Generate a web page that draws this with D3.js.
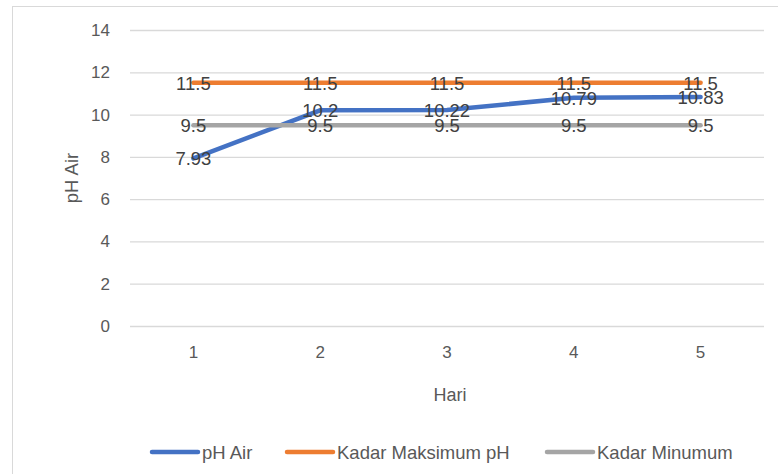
<!DOCTYPE html>
<html><head><meta charset="utf-8">
<script src="https://cdn.jsdelivr.net/npm/d3@7"></script>
<style>body{margin:0;background:#fff}svg{display:block}text{font-family:"Liberation Sans",Arial,sans-serif}</style>
</head><body><svg id="c" width="778" height="474"></svg>
<script>
const categories = ["1","2","3","4","5"];
const phAir = [7.93, 10.2, 10.22, 10.79, 10.83];
const kadarMaks = [11.5, 11.5, 11.5, 11.5, 11.5];
const kadarMin = [9.5, 9.5, 9.5, 9.5, 9.5];
const yTicks = [0, 2, 4, 6, 8, 10, 12, 14];
const seriesNames = ["pH Air", "Kadar Maksimum pH", "Kadar Minumum"];
const colors = ["#4472C4", "#ED7D31", "#A5A5A5"];

const series = [phAir, kadarMaks, kadarMin].map((v, i) => ({name: seriesNames[i], values: v, color: colors[i]}));
const svg = d3.select("#c");
const M = {left: 130, right: 764, top: 30, bottom: 326};

svg.append("rect").attr("x", 12.5).attr("y", 6.5).attr("width", 800).attr("height", 500)
  .attr("fill", "none").attr("stroke", "#D9D9D9");

const x = d3.scaleBand().domain(categories).range([M.left, M.right]);
const y = d3.scaleLinear().domain([0, 14]).range([M.bottom, M.top]);

const gy = svg.append("g").attr("transform", `translate(${M.left},0)`)
  .call(d3.axisLeft(y).tickValues(yTicks).tickSize(-(M.right - M.left)).tickPadding(20));
gy.select(".domain").remove();
gy.selectAll(".tick line").attr("stroke", "#D9D9D9").attr("stroke-width", 1.3);
gy.selectAll(".tick text").attr("fill", "#595959").style("font-size", "17px");

const gx = svg.append("g").attr("transform", `translate(0,${M.bottom})`)
  .call(d3.axisBottom(x).tickSize(0).tickPadding(20));
gx.select(".domain").remove();
gx.selectAll(".tick text").attr("fill", "#595959").style("font-size", "17px");

svg.append("text").attr("x", (M.left + M.right) / 2 + 3).attr("y", 401).attr("text-anchor", "middle")
  .attr("fill", "#595959").style("font-size", "18px").text("Hari");
svg.append("text").attr("transform", `translate(78,${(M.top + M.bottom) / 2}) rotate(-90)`)
  .attr("text-anchor", "middle").attr("fill", "#595959").style("font-size", "18.5px").text("pH Air");

const line = d3.line().x((d, i) => x(categories[i]) + x.bandwidth() / 2).y(d => y(d));
series.forEach(s => {
  svg.append("path").datum(s.values).attr("d", line).attr("fill", "none")
    .attr("stroke", s.color).attr("stroke-width", 4.5).attr("stroke-linecap", "round");
});
series.forEach(s => {
  svg.append("g").selectAll("text").data(s.values).join("text")
    .attr("x", (d, i) => x(categories[i]) + x.bandwidth() / 2)
    .attr("y", d => y(d)).attr("dy", "0.36em").attr("text-anchor", "middle")
    .attr("fill", "#404040").style("font-size", "18.5px").text(d => d);
});

const legX = [152, 287, 547];
const lg = svg.append("g");
series.forEach((s, i) => {
  lg.append("line").attr("x1", legX[i]).attr("x2", legX[i] + 46).attr("y1", 452).attr("y2", 452)
    .attr("stroke", s.color).attr("stroke-width", 4.5).attr("stroke-linecap", "round");
  lg.append("text").attr("x", legX[i] + 50).attr("y", 452).attr("dy", "0.36em")
    .attr("fill", "#595959").style("font-size", "18.5px").text(s.name);
});
</script></body></html>
